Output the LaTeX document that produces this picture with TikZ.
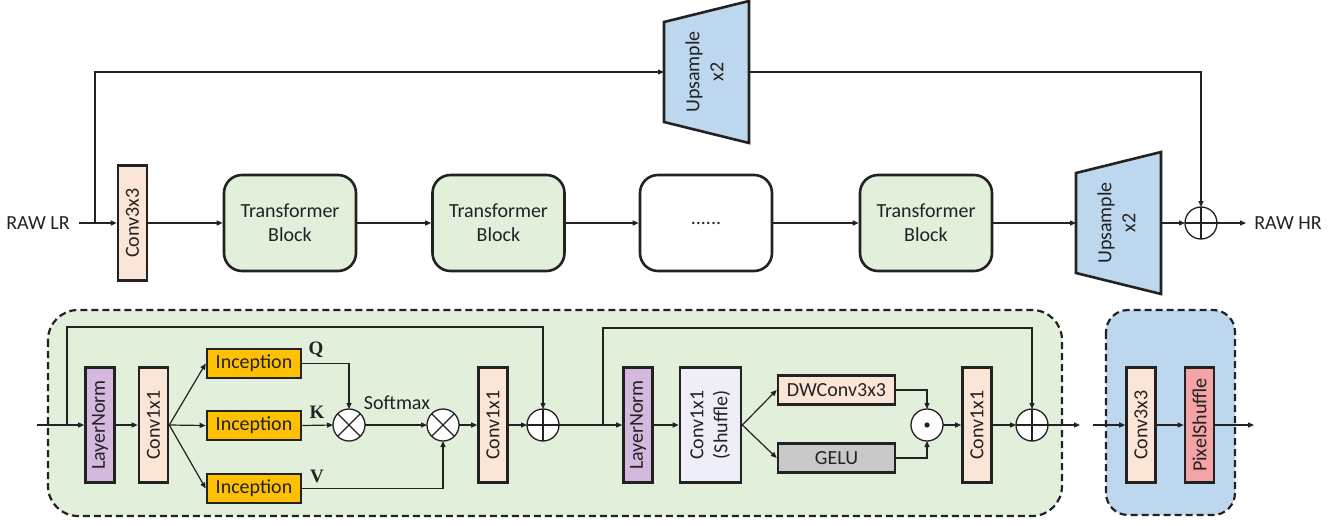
\documentclass[tikz,border=0pt]{standalone}
\usepackage{fontspec}
\setmainfont{Carlito}
\newfontfamily\qkvfont{Liberation Serif}
\usetikzlibrary{arrows.meta}

\definecolor{ink}{HTML}{222222}
\definecolor{convpeach}{HTML}{FBE5D6}
\definecolor{blockgreen}{HTML}{E2EFDA}
\definecolor{upblue}{HTML}{BDD7EE}
\definecolor{normpurple}{HTML}{D5B8DD}
\definecolor{incep}{HTML}{FFC000}
\definecolor{shuflav}{HTML}{EEEEF8}
\definecolor{gelugray}{HTML}{C9C9C9}
\definecolor{pspink}{HTML}{F4A3A6}

\newcommand{\vlabel}[1]{\rotatebox{90}{#1}}
\newcommand{\vlabeltwo}[2]{\rotatebox{90}{\begin{tabular}{@{}c@{}}#1\\#2\end{tabular}}}

\tikzset{
  txt/.style={text=ink, font=\fontsize{20}{24}\selectfont},
  vbar/.style={txt, draw=ink, line width=2.6pt, minimum width=29pt, minimum height=115pt, inner sep=0pt},
  hbox/.style={txt, draw=ink, line width=2.6pt, minimum width=94pt, minimum height=29pt, inner sep=0pt},
  tblock/.style={txt, draw=ink, line width=2.6pt, rounded corners=18pt, minimum width=132pt, minimum height=96pt, fill=blockgreen, align=center},
  op/.style={circle, draw=ink, line width=1.3pt, fill=white, minimum size=32pt, inner sep=0pt, outer sep=0pt},
  arr/.style={draw=ink, line width=1.2pt, -{Triangle[length=6pt,width=5pt]}},
  ln/.style={draw=ink, line width=1.2pt},
  trap/.style={draw=ink, line width=2.6pt, fill=upblue, line join=miter},
  panel/.style={draw=ink, line width=2.2pt, dash pattern=on 7pt off 4pt},
  qkv/.style={text=ink, font=\qkvfont\bfseries\fontsize{19}{20}\selectfont}
}

\begin{document}
\begin{tikzpicture}[x=1pt,y=-1pt]
\useasboundingbox (0,0) rectangle (1339,525);

% ---------------- overall network ----------------
\node[txt] (lr) at (38,223) {RAW LR};
\coordinate (lrout) at (79,223);
\coordinate (split) at (95,223);
\coordinate (skipup) at (95,72);

\node[vbar, fill=convpeach] (conv0) at (132.5,223) {\vlabel{Conv3x3}};
\node[tblock] (tb1) at (290,223) {Transformer\\Block};
\node[tblock] (tb2) at (498.5,223) {Transformer\\Block};
\node[tblock, fill=white] (tbd) at (706,223) {......};
\node[tblock] (tb3) at (926,223) {Transformer\\Block};

% upsample on the skip path
\draw[trap] (664,22) -- (749,1) -- (749,143) -- (664,122) -- cycle;
\node[txt] (upA) at (706.5,72) {\vlabeltwo{Upsample}{x2}};
\coordinate (upAin) at (664,72);
\coordinate (upAout) at (749,72);

% upsample on the main path
\draw[trap] (1076,173) -- (1161,152) -- (1161,294) -- (1076,273) -- cycle;
\node[txt] (upB) at (1118.5,223) {\vlabeltwo{Upsample}{x2}};
\coordinate (upBin) at (1076,223);
\coordinate (upBout) at (1161,223);

\node[op] (sum0) at (1201,223) {};
\draw[ln] (sum0.north) -- (sum0.south) (sum0.west) -- (sum0.east);
\coordinate (skipdown) at (1201,72);
\coordinate (hrin) at (1246,223);
\node[txt] (hr) at (1288,223) {RAW HR};

\draw[arr] (lrout) -- (conv0.west);
\draw[arr] (split) -- (skipup) -- (upAin);
\draw[arr] (upAout) -- (skipdown) -- (sum0.north);
\draw[arr] (conv0.east) -- (tb1.west);
\draw[arr] (tb1.east) -- (tb2.west);
\draw[arr] (tb2.east) -- (tbd.west);
\draw[arr] (tbd.east) -- (tb3.west);
\draw[arr] (tb3.east) -- (upBin);
\draw[arr] (upBout) -- (sum0.west);
\draw[arr] (sum0.east) -- (hrin);

% ---------------- transformer block detail ----------------
\draw[panel, fill=blockgreen, rounded corners=30pt] (48,310) rectangle (1062,516);

\coordinate (bin) at (37,425);
\coordinate (r1) at (67,425);
\coordinate (r1up) at (67,327);

\node[vbar, fill=normpurple] (ln1) at (100,425) {\vlabel{LayerNorm}};
\node[vbar, fill=convpeach] (c1) at (153.5,425) {\vlabel{Conv1x1}};
\node[hbox, fill=incep] (iq) at (254,363.5) {Inception};
\node[hbox, fill=incep] (ik) at (254,425.5) {Inception};
\node[hbox, fill=incep] (iv) at (254,488.5) {Inception};
\node[qkv] (lq) at (316,350) {Q};
\node[qkv] (lk) at (317,412) {K};
\node[qkv] (lv) at (317,476) {V};

\node[op] (m1) at (349,425) {};
\draw[ln] (m1.north east) -- (m1.south west) (m1.north west) -- (m1.south east);
\node[txt] (soft) at (397,403) {Softmax};
\node[op] (m2) at (443,425) {};
\draw[ln] (m2.north east) -- (m2.south west) (m2.north west) -- (m2.south east);
\node[vbar, fill=convpeach] (c2) at (493,425) {\vlabel{Conv1x1}};
\node[op] (s1) at (543,425) {};
\draw[ln] (s1.north) -- (s1.south) (s1.west) -- (s1.east);

\coordinate (qturn) at (349,363.5);
\coordinate (vturn) at (443,488.5);
\coordinate (r1down) at (543,327);

\draw[ln] (bin) -- (r1);
\draw[arr] (r1) -- (ln1.west);
\draw[arr] (r1) -- (r1up) -- (r1down) -- (s1.north);
\draw[arr] (ln1.east) -- (c1.west);
\draw[arr] (c1.east) -- (iq.west);
\draw[arr] (c1.east) -- (ik.west);
\draw[arr] (c1.east) -- (iv.west);
\draw[arr] (iq.east) -- (qturn) -- (m1.north);
\draw[arr] (ik.east) -- (m1.west);
\draw[arr] (m1.east) -- (m2.west);
\draw[arr] (iv.east) -- (vturn) -- (m2.south);
\draw[arr] (m2.east) -- (c2.west);
\draw[arr] (c2.east) -- (s1.west);

% feed-forward part
\coordinate (r2) at (603,425);
\coordinate (r2up) at (603,328);
\coordinate (r2down) at (1032,328);

\node[vbar, fill=normpurple] (ln2) at (638,425) {\vlabel{LayerNorm}};
\node[vbar, fill=shuflav, minimum width=61pt] (sh) at (710.5,425) {\vlabeltwo{Conv1x1}{(Shuffle)}};
\node[hbox, fill=convpeach, minimum width=117pt] (dw) at (836.5,390) {DWConv3x3};
\node[hbox, fill=gelugray, minimum width=117pt] (ge) at (836.5,458) {GELU};
\node[op] (dot) at (927,425) {};
\fill[ink] (dot.center) circle (2.6pt);
\node[vbar, fill=convpeach] (c3) at (977,425) {\vlabel{Conv1x1}};
\node[op] (s2) at (1032,425) {};
\draw[ln] (s2.north) -- (s2.south) (s2.west) -- (s2.east);
\coordinate (dwturn) at (927,390);
\coordinate (geturn) at (927,458);
\coordinate (bout) at (1080,425);

\draw[ln] (s1.east) -- (r2);
\draw[arr] (r2) -- (ln2.west);
\draw[arr] (r2) -- (r2up) -- (r2down) -- (s2.north);
\draw[arr] (ln2.east) -- (sh.west);
\draw[arr] (sh.east) -- (dw.west);
\draw[arr] (sh.east) -- (ge.west);
\draw[arr] (dw.east) -- (dwturn) -- (dot.north);
\draw[arr] (ge.east) -- (geturn) -- (dot.south);
\draw[arr] (dot.east) -- (c3.west);
\draw[arr] (c3.east) -- (s2.west);
\draw[arr] (s2.east) -- (bout);

% ---------------- upsample detail ----------------
\draw[panel, fill=upblue, rounded corners=22pt] (1106,310) rectangle (1235,515);
\coordinate (uin) at (1093,425);
\node[vbar, fill=convpeach] (c4) at (1141,425) {\vlabel{Conv3x3}};
\node[vbar, fill=pspink] (ps) at (1199.5,425) {\vlabel{PixelShuffle}};
\coordinate (uout) at (1254,425);

\draw[arr] (uin) -- (c4.west);
\draw[arr] (c4.east) -- (ps.west);
\draw[arr] (ps.east) -- (uout);
\end{tikzpicture}
\end{document}
